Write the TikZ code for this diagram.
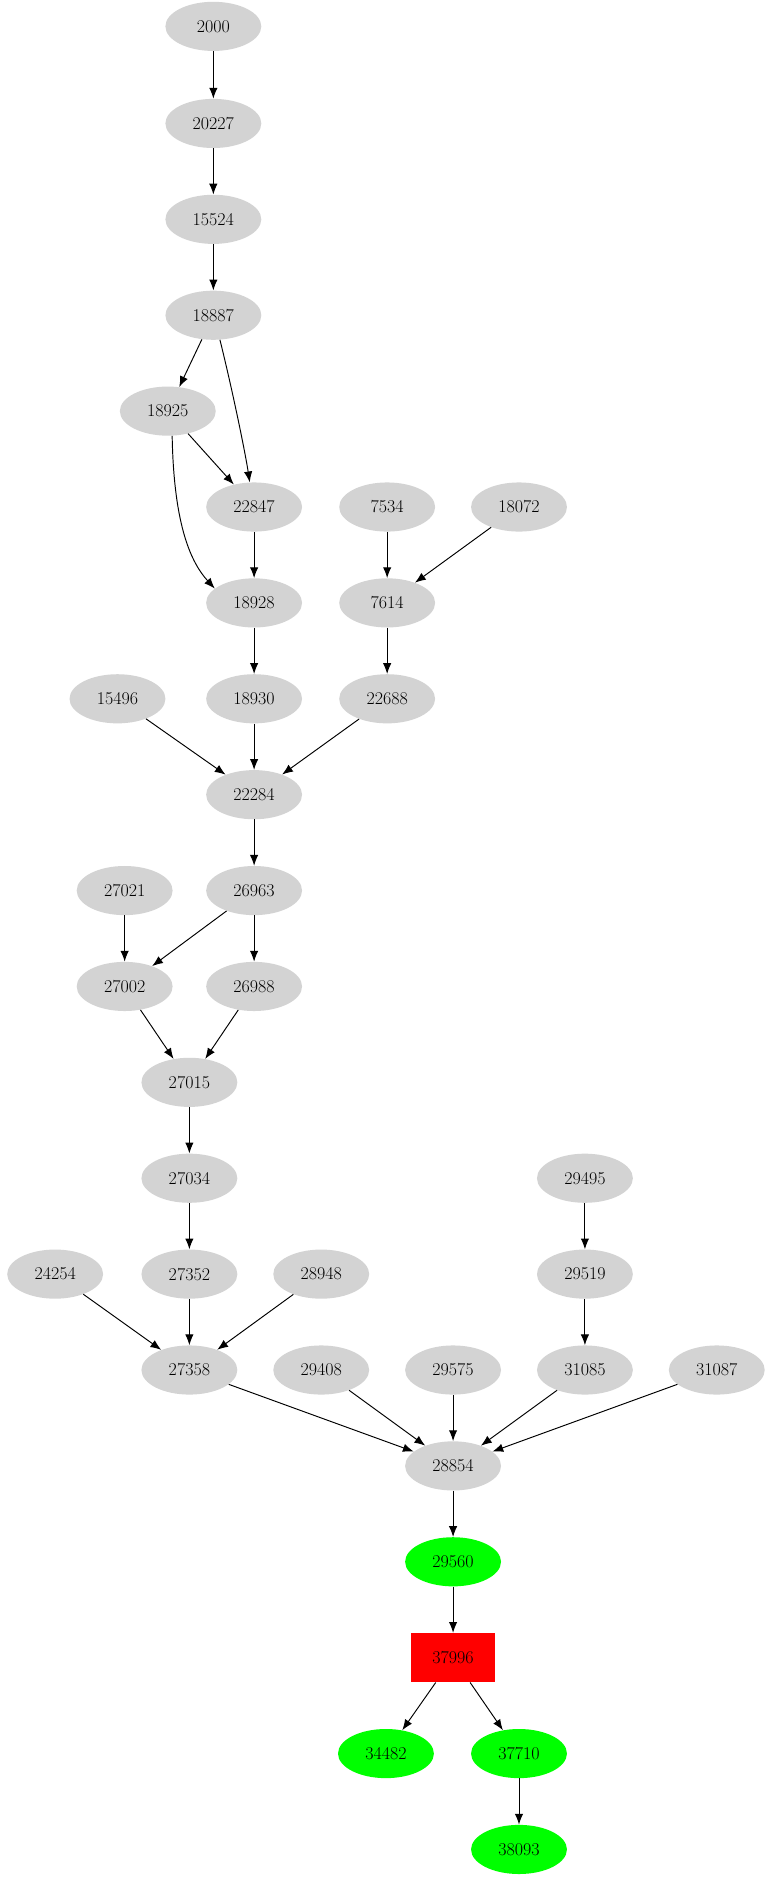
\documentclass[tikz,border=0pt]{standalone}
\usetikzlibrary{arrows.meta}
\begin{document}
\begin{tikzpicture}[x=1pt,y=-1pt,
 g/.style={ellipse,fill={rgb,255:red,211;green,211;blue,211},minimum width=80pt,minimum height=41pt,inner sep=0pt,font=\fontsize{15}{15}\selectfont},
 gr/.style={g,fill={rgb,255:red,0;green,255;blue,0}},
 rb/.style={rectangle,fill=red,minimum width=70pt,minimum height=41pt,inner sep=0pt,font=\fontsize{15}{15}\selectfont},
 e/.style={-{Latex[length=9pt,width=7pt]},line width=0.8pt}]
\useasboundingbox (0,0) rectangle (649,1571);
\usetikzlibrary{shapes.geometric}
\node[g] (n2000) at (178,22) {2000};
\node[g] (n20227) at (178,103) {20227};
\node[g] (n15524) at (178,183) {15524};
\node[g] (n18887) at (178,263) {18887};
\node[g] (n18925) at (140,343) {18925};
\node[g] (n22847) at (212,423) {22847};
\node[g] (n7534) at (323,423) {7534};
\node[g] (n18072) at (433,423) {18072};
\node[g] (n18928) at (212,503) {18928};
\node[g] (n7614) at (323,503) {7614};
\node[g] (n15496) at (98,583) {15496};
\node[g] (n18930) at (212,583) {18930};
\node[g] (n22688) at (323,583) {22688};
\node[g] (n22284) at (212,663) {22284};
\node[g] (n27021) at (104,743) {27021};
\node[g] (n26963) at (212,743) {26963};
\node[g] (n27002) at (104,823) {27002};
\node[g] (n26988) at (212,823) {26988};
\node[g] (n27015) at (158,903) {27015};
\node[g] (n27034) at (158,983) {27034};
\node[g] (n29495) at (488,983) {29495};
\node[g] (n24254) at (46,1063) {24254};
\node[g] (n27352) at (158,1063) {27352};
\node[g] (n28948) at (268,1063) {28948};
\node[g] (n29519) at (488,1063) {29519};
\node[g] (n27358) at (158,1143) {27358};
\node[g] (n29408) at (268,1143) {29408};
\node[g] (n29575) at (378,1143) {29575};
\node[g] (n31085) at (488,1143) {31085};
\node[g] (n31087) at (598,1143) {31087};
\node[g] (n28854) at (378,1223) {28854};
\node[gr] (n29560) at (378,1303) {29560};
\node[rb] (n37996) at (378,1383) {37996};
\node[gr] (n34482) at (322,1463) {34482};
\node[gr] (n37710) at (433,1463) {37710};
\node[gr] (n38093) at (433,1543) {38093};
\draw[e] (n2000)--(n20227);
\draw[e] (n20227)--(n15524);
\draw[e] (n15524)--(n18887);
\draw[e] (n18887)--(n18925);
\draw[e] (n18887.-75) .. controls (195,330) and (205,380) .. (n22847.100);
\draw[e] (n18925)--(n22847);
\draw[e] (n18925.-80) .. controls (145,440) and (160,470) .. (n18928.160);
\draw[e] (n22847)--(n18928);
\draw[e] (n7534)--(n7614);
\draw[e] (n18072)--(n7614);
\draw[e] (n18928)--(n18930);
\draw[e] (n7614)--(n22688);
\draw[e] (n15496)--(n22284);
\draw[e] (n18930)--(n22284);
\draw[e] (n22688)--(n22284);
\draw[e] (n22284)--(n26963);
\draw[e] (n27021)--(n27002);
\draw[e] (n26963)--(n27002);
\draw[e] (n26963)--(n26988);
\draw[e] (n27002)--(n27015);
\draw[e] (n26988)--(n27015);
\draw[e] (n27015)--(n27034);
\draw[e] (n27034)--(n27352);
\draw[e] (n29495)--(n29519);
\draw[e] (n24254)--(n27358);
\draw[e] (n27352)--(n27358);
\draw[e] (n28948)--(n27358);
\draw[e] (n29519)--(n31085);
\draw[e] (n27358)--(n28854);
\draw[e] (n29408)--(n28854);
\draw[e] (n29575)--(n28854);
\draw[e] (n31085)--(n28854);
\draw[e] (n31087)--(n28854);
\draw[e] (n28854)--(n29560);
\draw[e] (n29560)--(n37996);
\draw[e] (n37996)--(n34482);
\draw[e] (n37996)--(n37710);
\draw[e] (n37710)--(n38093);
\end{tikzpicture}
\end{document}
